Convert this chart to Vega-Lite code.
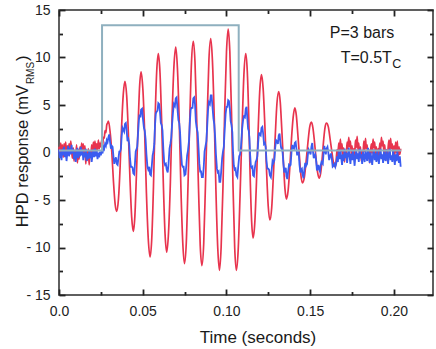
{
"$schema":"https://vega.github.io/schema/vega-lite/v6.json",
"width":374,"height":285,
"autosize":{"type":"none"},
"padding":{"left":59,"top":10,"right":3,"bottom":54},
"config":{"view":{"stroke":"#2b2b2b","strokeWidth":1.5},"font":"Liberation Sans","text":{"font":"Liberation Sans","color":"#1a1a1a"},"axis":{"ticks":true,"tickOpacity":1,"zindex":2}},
"datasets":{
"red":[
{"t":0.0000,"v":0.6},{"t":0.0005,"v":-0.2},{"t":0.0010,"v":1.0},{"t":0.0015,"v":0.1},{"t":0.0020,"v":0.8},{"t":0.0025,"v":-0.5},{"t":0.0030,"v":0.9},{"t":0.0035,"v":0.2},{"t":0.0040,"v":1.1},{"t":0.0045,"v":-0.3},
{"t":0.0050,"v":0.7},{"t":0.0055,"v":-0.1},{"t":0.0060,"v":0.9},{"t":0.0065,"v":0.0},{"t":0.0070,"v":1.2},{"t":0.0075,"v":0.3},{"t":0.0080,"v":-0.6},{"t":0.0085,"v":0.5},{"t":0.0090,"v":-0.9},{"t":0.0095,"v":0.2},
{"t":0.0100,"v":-0.4},{"t":0.0105,"v":0.8},{"t":0.0110,"v":-1.1},{"t":0.0115,"v":0.3},{"t":0.0120,"v":-0.7},{"t":0.0125,"v":0.6},{"t":0.0130,"v":-0.2},{"t":0.0135,"v":1.0},{"t":0.0140,"v":0.1},{"t":0.0145,"v":0.9},
{"t":0.0150,"v":-0.3},{"t":0.0155,"v":0.7},{"t":0.0160,"v":-1.2},{"t":0.0165,"v":0.2},{"t":0.0170,"v":-0.8},{"t":0.0175,"v":0.4},{"t":0.0180,"v":-1.3},{"t":0.0185,"v":0.1},{"t":0.0190,"v":-0.5},{"t":0.0195,"v":0.8},
{"t":0.0200,"v":-0.2},{"t":0.0205,"v":1.1},{"t":0.0210,"v":0.3},{"t":0.0215,"v":1.2},{"t":0.0220,"v":0.0},{"t":0.0225,"v":0.9},{"t":0.0230,"v":0.2},{"t":0.0235,"v":1.3},{"t":0.0240,"v":0.4},{"t":0.0245,"v":1.0},
{"t":0.0250,"v":0.6},{"t":0.0255,"v":1.3},{"t":0.0260,"v":0.7},{"t":0.0265,"v":1.6},{"t":0.0270,"v":1.5},{"t":0.0275,"v":2.3},{"t":0.0280,"v":2.1},{"t":0.0285,"v":2.9},{"t":0.0290,"v":3.1},
{"t":0.0295,"v":3.3},{"t":0.0305,"v":2.2},{"t":0.0315,"v":0.1},{"t":0.0325,"v":-3.0},{"t":0.0335,"v":-5.4},{"t":0.0345,"v":-6.2},{"t":0.0355,"v":-4.9},{"t":0.0365,"v":-1.5},{"t":0.0374,"v":2.8},{"t":0.0384,"v":6.2},
{"t":0.0394,"v":7.5},{"t":0.0404,"v":6.0},{"t":0.0414,"v":2.1},{"t":0.0424,"v":-2.9},{"t":0.0434,"v":-6.8},{"t":0.0444,"v":-8.3},{"t":0.0453,"v":-6.7},{"t":0.0462,"v":-2.5},{"t":0.0472,"v":2.7},{"t":0.0481,"v":6.9},
{"t":0.0490,"v":8.5},{"t":0.0501,"v":6.6},{"t":0.0512,"v":1.8},{"t":0.0522,"v":-4.3},{"t":0.0533,"v":-9.1},{"t":0.0544,"v":-11.0},{"t":0.0554,"v":-9.0},{"t":0.0564,"v":-3.6},{"t":0.0573,"v":3.0},{"t":0.0583,"v":8.4},
{"t":0.0593,"v":10.4},{"t":0.0603,"v":8.4},{"t":0.0613,"v":3.2},{"t":0.0623,"v":-3.3},{"t":0.0633,"v":-8.5},{"t":0.0643,"v":-10.5},{"t":0.0654,"v":-8.4},{"t":0.0665,"v":-3.1},{"t":0.0675,"v":3.7},{"t":0.0686,"v":9.0},
{"t":0.0697,"v":11.1},{"t":0.0707,"v":8.9},{"t":0.0718,"v":3.2},{"t":0.0728,"v":-3.8},{"t":0.0739,"v":-9.5},{"t":0.0749,"v":-11.7},{"t":0.0760,"v":-9.5},{"t":0.0770,"v":-3.6},{"t":0.0781,"v":3.6},{"t":0.0791,"v":9.5},
{"t":0.0802,"v":11.7},{"t":0.0812,"v":9.5},{"t":0.0822,"v":3.6},{"t":0.0833,"v":-3.8},{"t":0.0843,"v":-9.7},{"t":0.0853,"v":-11.9},{"t":0.0864,"v":-9.6},{"t":0.0874,"v":-3.7},{"t":0.0885,"v":3.8},{"t":0.0895,"v":9.7},
{"t":0.0906,"v":12.0},{"t":0.0916,"v":9.7},{"t":0.0927,"v":3.6},{"t":0.0937,"v":-4.0},{"t":0.0948,"v":-10.1},{"t":0.0958,"v":-12.4},{"t":0.0968,"v":-10.0},{"t":0.0979,"v":-3.6},{"t":0.0989,"v":4.2},{"t":0.1000,"v":10.6},
{"t":0.1010,"v":13.0},{"t":0.1020,"v":10.6},{"t":0.1030,"v":4.2},{"t":0.1039,"v":-3.6},{"t":0.1049,"v":-10.0},{"t":0.1059,"v":-12.4},{"t":0.1070,"v":-10.2},{"t":0.1081,"v":-4.5},{"t":0.1093,"v":2.5},{"t":0.1104,"v":8.2},
{"t":0.1115,"v":10.4},{"t":0.1124,"v":8.6},{"t":0.1133,"v":3.7},{"t":0.1141,"v":-2.3},{"t":0.1150,"v":-7.2},{"t":0.1159,"v":-9.0},{"t":0.1169,"v":-7.4},{"t":0.1179,"v":-3.1},{"t":0.1189,"v":2.3},{"t":0.1199,"v":6.6},
{"t":0.1209,"v":8.2},{"t":0.1219,"v":6.7},{"t":0.1229,"v":2.9},{"t":0.1239,"v":-1.8},{"t":0.1249,"v":-5.6},{"t":0.1259,"v":-7.1},{"t":0.1270,"v":-5.8},{"t":0.1280,"v":-2.4},{"t":0.1291,"v":1.7},{"t":0.1301,"v":5.1},
{"t":0.1312,"v":6.4},{"t":0.1321,"v":5.3},{"t":0.1330,"v":2.5},{"t":0.1340,"v":-1.0},{"t":0.1349,"v":-3.8},{"t":0.1358,"v":-4.9},{"t":0.1368,"v":-4.0},{"t":0.1378,"v":-1.6},{"t":0.1388,"v":1.4},{"t":0.1398,"v":3.7},
{"t":0.1408,"v":4.7},{"t":0.1417,"v":3.9},{"t":0.1426,"v":1.9},{"t":0.1436,"v":-0.5},{"t":0.1445,"v":-2.5},{"t":0.1454,"v":-3.2},{"t":0.1465,"v":-2.6},{"t":0.1475,"v":-1.0},{"t":0.1486,"v":1.0},{"t":0.1496,"v":2.6},
{"t":0.1507,"v":3.2},{"t":0.1516,"v":2.6},{"t":0.1525,"v":1.2},{"t":0.1535,"v":-0.7},{"t":0.1544,"v":-2.1},{"t":0.1553,"v":-2.7},{"t":0.1562,"v":-2.2},{"t":0.1571,"v":-0.7},{"t":0.1579,"v":1.1},{"t":0.1588,"v":2.6},
{"t":0.1597,"v":3.1},{"t":0.1608,"v":2.7},{"t":0.1618,"v":1.5},{"t":0.1629,"v":0.1},{"t":0.1639,"v":-1.1},{"t":0.1650,"v":-1.5},
{"t":0.1655,"v":-0.8},{"t":0.1660,"v":0.3},{"t":0.1665,"v":-0.5},{"t":0.1670,"v":1.0},{"t":0.1675,"v":0.2},{"t":0.1680,"v":1.4},{"t":0.1685,"v":0.1},{"t":0.1690,"v":0.9},{"t":0.1695,"v":-0.6},{"t":0.1700,"v":0.5},
{"t":0.1705,"v":-1.0},{"t":0.1710,"v":0.2},{"t":0.1715,"v":-0.4},{"t":0.1720,"v":1.1},{"t":0.1725,"v":0.4},{"t":0.1730,"v":1.6},{"t":0.1735,"v":0.6},{"t":0.1740,"v":1.2},{"t":0.1745,"v":-0.2},{"t":0.1750,"v":0.7},
{"t":0.1755,"v":-0.7},{"t":0.1760,"v":0.4},{"t":0.1765,"v":-0.3},{"t":0.1770,"v":1.3},{"t":0.1775,"v":0.5},{"t":0.1780,"v":1.7},{"t":0.1785,"v":0.3},{"t":0.1790,"v":1.0},{"t":0.1795,"v":-0.5},{"t":0.1800,"v":0.6},
{"t":0.1805,"v":-0.9},{"t":0.1810,"v":0.2},{"t":0.1815,"v":-0.2},{"t":0.1820,"v":1.2},{"t":0.1825,"v":0.1},{"t":0.1830,"v":1.5},{"t":0.1835,"v":0.4},{"t":0.1840,"v":0.8},{"t":0.1845,"v":-0.6},{"t":0.1850,"v":0.3},
{"t":0.1855,"v":-1.1},{"t":0.1860,"v":0.1},{"t":0.1865,"v":0.9},{"t":0.1870,"v":-0.1},{"t":0.1875,"v":1.4},{"t":0.1880,"v":0.5},{"t":0.1885,"v":1.1},{"t":0.1890,"v":-0.3},{"t":0.1895,"v":0.6},{"t":0.1900,"v":-0.8},
{"t":0.1905,"v":0.4},{"t":0.1910,"v":-0.4},{"t":0.1915,"v":1.0},{"t":0.1920,"v":0.2},{"t":0.1925,"v":1.6},{"t":0.1930,"v":0.7},{"t":0.1935,"v":1.2},{"t":0.1940,"v":-0.1},{"t":0.1945,"v":0.8},{"t":0.1950,"v":-0.6},
{"t":0.1955,"v":0.3},{"t":0.1960,"v":-0.9},{"t":0.1965,"v":0.5},{"t":0.1970,"v":1.3},{"t":0.1975,"v":0.2},{"t":0.1980,"v":1.5},{"t":0.1985,"v":0.4},{"t":0.1990,"v":0.9},{"t":0.1995,"v":-0.4},{"t":0.2000,"v":0.7},
{"t":0.2005,"v":-0.3},{"t":0.2010,"v":1.1},{"t":0.2015,"v":0.0},{"t":0.2020,"v":1.2},{"t":0.2025,"v":-0.5},{"t":0.2030,"v":0.6},{"t":0.2035,"v":-0.2},{"t":0.2040,"v":0.4}
],
"blue":[
{"t":0.0000,"v":0.3},{"t":0.0005,"v":-0.6},{"t":0.0010,"v":0.1},{"t":0.0015,"v":-0.8},{"t":0.0020,"v":0.4},{"t":0.0025,"v":-0.3},{"t":0.0030,"v":0.6},{"t":0.0035,"v":-0.5},{"t":0.0040,"v":0.2},{"t":0.0045,"v":-0.9},
{"t":0.0050,"v":0.0},{"t":0.0055,"v":0.7},{"t":0.0060,"v":-0.4},{"t":0.0065,"v":0.5},{"t":0.0070,"v":-0.2},{"t":0.0075,"v":0.8},{"t":0.0080,"v":-0.1},{"t":0.0085,"v":0.4},{"t":0.0090,"v":-0.7},{"t":0.0095,"v":0.1},
{"t":0.0100,"v":-1.0},{"t":0.0105,"v":-0.2},{"t":0.0110,"v":0.5},{"t":0.0115,"v":-0.6},{"t":0.0120,"v":0.2},{"t":0.0125,"v":-0.4},{"t":0.0130,"v":0.6},{"t":0.0135,"v":-0.3},{"t":0.0140,"v":0.3},{"t":0.0145,"v":-0.8},
{"t":0.0150,"v":0.0},{"t":0.0155,"v":-0.5},{"t":0.0160,"v":0.4},{"t":0.0165,"v":-0.9},{"t":0.0170,"v":-0.1},{"t":0.0175,"v":-0.7},{"t":0.0180,"v":0.2},{"t":0.0185,"v":-0.6},{"t":0.0190,"v":0.1},{"t":0.0195,"v":-1.0},
{"t":0.0200,"v":-0.3},{"t":0.0205,"v":0.3},{"t":0.0210,"v":-0.5},{"t":0.0215,"v":0.4},{"t":0.0220,"v":-0.4},{"t":0.0225,"v":0.2},{"t":0.0230,"v":-0.7},{"t":0.0235,"v":0.0},{"t":0.0240,"v":-0.5},{"t":0.0245,"v":0.1},
{"t":0.0250,"v":-0.3},{"t":0.0255,"v":0.2},{"t":0.0260,"v":-0.1},{"t":0.0265,"v":0.6},{"t":0.0270,"v":0.4},{"t":0.0275,"v":0.9},{"t":0.0280,"v":0.7},{"t":0.0285,"v":1.3},{"t":0.0290,"v":1.1},
{"t":0.0295,"v":1.6},{"t":0.0305,"v":1.1},{"t":0.0315,"v":0.7},{"t":0.0325,"v":-0.4},{"t":0.0335,"v":-0.8},{"t":0.0345,"v":-1.2},{"t":0.0355,"v":-0.6},{"t":0.0365,"v":0.1},{"t":0.0374,"v":1.7},{"t":0.0384,"v":2.4},
{"t":0.0394,"v":3.0},{"t":0.0404,"v":2.3},{"t":0.0414,"v":1.4},{"t":0.0424,"v":-0.6},{"t":0.0434,"v":-1.5},{"t":0.0444,"v":-2.2},{"t":0.0453,"v":-1.3},{"t":0.0462,"v":0.3},{"t":0.0472,"v":2.0},{"t":0.0481,"v":4.0},
{"t":0.0490,"v":4.5},{"t":0.0501,"v":3.6},{"t":0.0512,"v":2.3},{"t":0.0522,"v":-0.2},{"t":0.0533,"v":-1.8},{"t":0.0544,"v":-2.3},{"t":0.0554,"v":-1.4},{"t":0.0564,"v":0.1},{"t":0.0573,"v":2.8},{"t":0.0583,"v":4.3},
{"t":0.0593,"v":5.2},{"t":0.0603,"v":4.3},{"t":0.0613,"v":2.9},{"t":0.0623,"v":0.4},{"t":0.0633,"v":-1.3},{"t":0.0643,"v":-1.8},{"t":0.0654,"v":-1.2},{"t":0.0665,"v":0.9},{"t":0.0675,"v":2.9},{"t":0.0686,"v":5.1},
{"t":0.0697,"v":5.7},{"t":0.0707,"v":4.7},{"t":0.0718,"v":3.1},{"t":0.0728,"v":0.2},{"t":0.0739,"v":-1.5},{"t":0.0749,"v":-2.4},{"t":0.0760,"v":-1.4},{"t":0.0770,"v":0.2},{"t":0.0781,"v":3.1},{"t":0.0791,"v":4.7},
{"t":0.0802,"v":5.7},{"t":0.0812,"v":5.1},{"t":0.0822,"v":2.6},{"t":0.0833,"v":0.5},{"t":0.0843,"v":-2.0},{"t":0.0853,"v":-2.6},{"t":0.0864,"v":-1.6},{"t":0.0874,"v":0.6},{"t":0.0885,"v":2.8},{"t":0.0895,"v":5.3},
{"t":0.0906,"v":6.0},{"t":0.0916,"v":4.9},{"t":0.0927,"v":3.0},{"t":0.0937,"v":-0.2},{"t":0.0948,"v":-2.1},{"t":0.0958,"v":-3.1},{"t":0.0968,"v":-2.1},{"t":0.0979,"v":0.1},{"t":0.0989,"v":2.3},{"t":0.1000,"v":4.8},
{"t":0.1010,"v":5.5},{"t":0.1020,"v":4.6},{"t":0.1030,"v":2.9},{"t":0.1039,"v":0.1},{"t":0.1049,"v":-1.8},{"t":0.1059,"v":-2.4},{"t":0.1070,"v":-1.5},{"t":0.1081,"v":-0.2},{"t":0.1093,"v":2.4},{"t":0.1104,"v":3.8},
{"t":0.1115,"v":4.6},{"t":0.1124,"v":3.7},{"t":0.1133,"v":2.3},{"t":0.1141,"v":-0.2},{"t":0.1150,"v":-1.6},{"t":0.1159,"v":-2.4},{"t":0.1169,"v":-1.7},{"t":0.1179,"v":-0.8},{"t":0.1189,"v":1.0},{"t":0.1199,"v":1.9},
{"t":0.1209,"v":2.6},{"t":0.1219,"v":2.0},{"t":0.1229,"v":1.0},{"t":0.1239,"v":-0.9},{"t":0.1249,"v":-1.7},{"t":0.1259,"v":-2.4},{"t":0.1270,"v":-1.8},{"t":0.1280,"v":-1.1},{"t":0.1291,"v":0.5},{"t":0.1301,"v":1.2},
{"t":0.1312,"v":1.8},{"t":0.1321,"v":1.2},{"t":0.1330,"v":0.5},{"t":0.1340,"v":-1.2},{"t":0.1349,"v":-1.9},{"t":0.1358,"v":-2.5},{"t":0.1368,"v":-2.0},{"t":0.1378,"v":-1.4},{"t":0.1388,"v":0.0},{"t":0.1398,"v":0.5},
{"t":0.1408,"v":1.0},{"t":0.1417,"v":0.5},{"t":0.1426,"v":0.0},{"t":0.1436,"v":-1.3},{"t":0.1445,"v":-1.8},{"t":0.1454,"v":-2.3},{"t":0.1465,"v":-1.8},{"t":0.1475,"v":-1.4},{"t":0.1486,"v":-0.2},{"t":0.1496,"v":0.1},
{"t":0.1507,"v":0.6},{"t":0.1516,"v":0.2},{"t":0.1525,"v":-0.4},{"t":0.1535,"v":-0.8},{"t":0.1544,"v":-1.7},{"t":0.1553,"v":-1.8},{"t":0.1562,"v":-1.4},{"t":0.1571,"v":-1.1},{"t":0.1579,"v":-0.2},{"t":0.1588,"v":0.3},
{"t":0.1597,"v":0.4},{"t":0.1608,"v":0.0},{"t":0.1618,"v":-0.4},{"t":0.1629,"v":-0.7},{"t":0.1639,"v":-1.4},{"t":0.1650,"v":-1.5},
{"t":0.0300,"v":1.9},{"t":0.0310,"v":0.4},{"t":0.0320,"v":0.6},{"t":0.0330,"v":-1.2},{"t":0.0340,"v":-0.5},{"t":0.0350,"v":-1.3},{"t":0.0360,"v":0.1},{"t":0.0370,"v":0.4},{"t":0.0379,"v":2.6},{"t":0.0389,"v":2.2},
{"t":0.0399,"v":3.1},{"t":0.0409,"v":1.2},{"t":0.0419,"v":0.9},{"t":0.0429,"v":-1.5},{"t":0.0439,"v":-1.6},{"t":0.0449,"v":-2.3},{"t":0.0458,"v":0.1},{"t":0.0467,"v":0.6},{"t":0.0477,"v":3.4},{"t":0.0486,"v":3.7},
{"t":0.0496,"v":4.6},{"t":0.0507,"v":2.6},{"t":0.0517,"v":1.4},{"t":0.0528,"v":-1.5},{"t":0.0539,"v":-1.5},{"t":0.0549,"v":-2.4},{"t":0.0559,"v":-0.3},{"t":0.0569,"v":0.9},{"t":0.0578,"v":4.1},{"t":0.0588,"v":4.4},
{"t":0.0598,"v":5.1},{"t":0.0608,"v":3.1},{"t":0.0618,"v":2.3},{"t":0.0628,"v":-1.0},{"t":0.0638,"v":-1.2},{"t":0.0649,"v":-2.1},{"t":0.0660,"v":0.4},{"t":0.0670,"v":1.5},{"t":0.0681,"v":4.3},{"t":0.0692,"v":4.9},
{"t":0.0702,"v":5.8},{"t":0.0713,"v":3.4},{"t":0.0723,"v":2.1},{"t":0.0734,"v":-1.3},{"t":0.0744,"v":-1.5},{"t":0.0755,"v":-2.3},{"t":0.0765,"v":-0.3},{"t":0.0776,"v":1.2},{"t":0.0786,"v":4.5},{"t":0.0797,"v":4.7},
{"t":0.0807,"v":5.8},{"t":0.0817,"v":3.3},{"t":0.0828,"v":2.1},{"t":0.0838,"v":-1.2},{"t":0.0848,"v":-2.0},{"t":0.0859,"v":-2.6},{"t":0.0869,"v":0.1},{"t":0.0880,"v":1.2},{"t":0.0890,"v":4.5},{"t":0.0901,"v":5.1},
{"t":0.0911,"v":6.0},{"t":0.0922,"v":3.6},{"t":0.0932,"v":1.7},{"t":0.0943,"v":-1.7},{"t":0.0953,"v":-2.0},{"t":0.0963,"v":-3.1},{"t":0.0974,"v":-0.6},{"t":0.0984,"v":0.6},{"t":0.0995,"v":4.1},{"t":0.1005,"v":4.8},
{"t":0.1015,"v":5.4},{"t":0.1025,"v":3.3},{"t":0.1035,"v":2.1},{"t":0.1044,"v":-1.4},{"t":0.1054,"v":-1.7},{"t":0.1065,"v":-2.6},{"t":0.1076,"v":-0.4},{"t":0.1087,"v":0.7},{"t":0.1099,"v":3.4},{"t":0.1110,"v":3.7},
{"t":0.1120,"v":4.8},{"t":0.1129,"v":2.5},{"t":0.1137,"v":1.5},{"t":0.1146,"v":-1.5},{"t":0.1155,"v":-1.5},{"t":0.1164,"v":-2.5},{"t":0.1174,"v":-1.0},{"t":0.1184,"v":-0.4},{"t":0.1194,"v":2.1},{"t":0.1204,"v":1.8},
{"t":0.1214,"v":2.7},{"t":0.1224,"v":0.9},{"t":0.1234,"v":0.6},{"t":0.1244,"v":-1.7},{"t":0.1254,"v":-1.8},{"t":0.1265,"v":-2.6},{"t":0.1275,"v":-0.9},{"t":0.1286,"v":-0.8},{"t":0.1296,"v":1.3},{"t":0.1307,"v":0.9},
{"t":0.1317,"v":2.0},{"t":0.1326,"v":0.5},{"t":0.1335,"v":0.0},{"t":0.1345,"v":-2.1},{"t":0.1354,"v":-1.6},{"t":0.1363,"v":-2.8},{"t":0.1373,"v":-1.3},{"t":0.1383,"v":-1.3},{"t":0.1393,"v":0.8},{"t":0.1403,"v":0.4},
{"t":0.1413,"v":1.1},{"t":0.1422,"v":-0.3},{"t":0.1431,"v":0.0},{"t":0.1441,"v":-2.1},{"t":0.1450,"v":-1.7},{"t":0.1460,"v":-2.7},{"t":0.1470,"v":-1.1},{"t":0.1481,"v":-1.2},{"t":0.1491,"v":0.3},{"t":0.1502,"v":-0.2},
{"t":0.1512,"v":1.0},{"t":0.1521,"v":-0.6},{"t":0.1530,"v":-0.2},{"t":0.1540,"v":-1.9},{"t":0.1549,"v":-1.3},{"t":0.1558,"v":-2.0},{"t":0.1567,"v":-1.0},{"t":0.1575,"v":-1.2},{"t":0.1584,"v":0.7},{"t":0.1593,"v":-0.2},
{"t":0.1603,"v":0.6},{"t":0.1613,"v":-0.8},{"t":0.1624,"v":-0.1},{"t":0.1634,"v":-1.5},{"t":0.1645,"v":-1.2},
{"t":0.1655,"v":-1.2},{"t":0.1660,"v":-0.4},{"t":0.1665,"v":-1.0},{"t":0.1670,"v":0.1},{"t":0.1675,"v":-0.7},{"t":0.1680,"v":0.3},{"t":0.1685,"v":-0.5},{"t":0.1690,"v":-1.3},{"t":0.1695,"v":-0.2},{"t":0.1700,"v":-0.9},
{"t":0.1705,"v":0.4},{"t":0.1710,"v":-0.6},{"t":0.1715,"v":0.0},{"t":0.1720,"v":-1.1},{"t":0.1725,"v":-0.3},{"t":0.1730,"v":0.5},{"t":0.1735,"v":-0.4},{"t":0.1740,"v":-1.2},{"t":0.1745,"v":-0.1},{"t":0.1750,"v":-0.8},
{"t":0.1755,"v":0.2},{"t":0.1760,"v":-0.5},{"t":0.1765,"v":-1.4},{"t":0.1770,"v":-0.3},{"t":0.1775,"v":0.3},{"t":0.1780,"v":-0.7},{"t":0.1785,"v":-0.1},{"t":0.1790,"v":-1.0},{"t":0.1795,"v":0.4},{"t":0.1800,"v":-0.6},
{"t":0.1805,"v":-0.2},{"t":0.1810,"v":-1.2},{"t":0.1815,"v":0.1},{"t":0.1820,"v":-0.5},{"t":0.1825,"v":-1.0},{"t":0.1830,"v":0.2},{"t":0.1835,"v":-0.4},{"t":0.1840,"v":-0.9},{"t":0.1845,"v":0.5},{"t":0.1850,"v":-0.3},
{"t":0.1855,"v":-1.1},{"t":0.1860,"v":0.0},{"t":0.1865,"v":-0.6},{"t":0.1870,"v":-1.3},{"t":0.1875,"v":-0.2},{"t":0.1880,"v":0.3},{"t":0.1885,"v":-0.8},{"t":0.1890,"v":-0.1},{"t":0.1895,"v":-1.0},{"t":0.1900,"v":0.2},
{"t":0.1905,"v":-0.5},{"t":0.1910,"v":-1.2},{"t":0.1915,"v":-0.3},{"t":0.1920,"v":0.4},{"t":0.1925,"v":-0.7},{"t":0.1930,"v":-0.2},{"t":0.1935,"v":-1.1},{"t":0.1940,"v":0.1},{"t":0.1945,"v":-0.6},{"t":0.1950,"v":-0.9},
{"t":0.1955,"v":0.3},{"t":0.1960,"v":-0.4},{"t":0.1965,"v":-1.2},{"t":0.1970,"v":-0.1},{"t":0.1975,"v":0.4},{"t":0.1980,"v":-0.8},{"t":0.1985,"v":-0.3},{"t":0.1990,"v":-1.0},{"t":0.1995,"v":0.2},{"t":0.2000,"v":-0.5},
{"t":0.2005,"v":-1.3},{"t":0.2010,"v":-0.2},{"t":0.2015,"v":-0.9},{"t":0.2020,"v":0.1},{"t":0.2025,"v":-0.6},{"t":0.2030,"v":-1.1},{"t":0.2035,"v":-0.4},{"t":0.2040,"v":-1.5}
],
"gate":[
{"o":1,"t":0.0,"v":0.2},{"o":2,"t":0.0257,"v":0.2},{"o":3,"t":0.0257,"v":13.4},{"o":4,"t":0.1073,"v":13.4},{"o":5,"t":0.1073,"v":0.2},{"o":6,"t":0.2043,"v":0.2}
]
},
"layer":[
{"data":{"name":"red"},
 "mark":{"type":"line","color":"#e8344e","strokeWidth":1.7,"interpolate":"monotone"},
 "encoding":{
  "x":{"field":"t","type":"quantitative","scale":{"domain":[0,0.2233],"nice":false,"zero":false},
   "axis":{"orient":"bottom","values":[0,0.05,0.1,0.15,0.2],
    "labelExpr":"datum.value==0 ? '0.0' : format(datum.value,'.2f')",
    "tickSize":-6,"labelPadding":15,"labelOverlap":false,"labelFlush":false,"labelBound":false,"domain":false,"grid":false,
    "tickColor":"#222222","tickWidth":1.8,"labelFontSize":14,"labelColor":"#222222","labelFont":"Liberation Sans",
    "title":"Time (seconds)","titleFontSize":17,"titleFontWeight":"normal","titleFont":"Liberation Sans","titleColor":"#1a1a1a",
    "titleX":198.5,"titleY":47,"titleBaseline":"alphabetic","titleAlign":"center"}},
  "y":{"field":"v","type":"quantitative","scale":{"domain":[-15,15],"nice":false,"zero":false},
   "axis":{"orient":"left","values":[-15,-10,-5,0,5,10,15],
    "labelExpr":"datum.value<0 ? '- '+format(-datum.value,'d') : format(datum.value,'d')",
    "tickSize":-6,"labelPadding":15,"labelOverlap":false,"labelFlush":false,"labelBound":false,"domain":false,"grid":false,
    "tickColor":"#222222","tickWidth":1.8,"labelFontSize":14,"labelColor":"#222222","labelFont":"Liberation Sans","title":null}}
 }},
{"data":{"name":"blue"},
 "mark":{"type":"line","color":"#3a5cf0","strokeWidth":1.8},
 "encoding":{
  "x":{"field":"t","type":"quantitative",
   "axis":{"orient":"top","values":[0,0.05,0.1,0.15,0.2],"labels":false,"tickSize":-6,
    "domain":false,"grid":false,"tickColor":"#222222","tickWidth":1.8,"title":null}},
  "y":{"field":"v","type":"quantitative",
   "axis":{"orient":"right","values":[-15,-10,-5,0,5,10,15],"labels":false,"tickSize":-6,
    "domain":false,"grid":false,"tickColor":"#222222","tickWidth":1.8,"title":null}}
 }},
{"data":{"name":"gate"},
 "mark":{"type":"line","color":"#8fb0bf","strokeWidth":2},
 "encoding":{
  "x":{"field":"t","type":"quantitative",
   "axis":{"orient":"bottom","values":[0.025,0.075,0.125,0.175],"labels":false,"tickSize":-3.5,
    "domain":false,"grid":false,"tickColor":"#222222","tickWidth":1.8,"title":null}},
  "y":{"field":"v","type":"quantitative",
   "axis":{"orient":"left","values":[-12.5,-7.5,-2.5,2.5,7.5,12.5],"labels":false,"tickSize":-3.5,
    "domain":false,"grid":false,"tickColor":"#222222","tickWidth":1.8,"title":null}},
  "order":{"field":"o","type":"quantitative"}
 }},
{"data":{"values":[{"t":0.1617,"v":12.02}]},
 "mark":{"type":"text","text":"P=3 bars","fontSize":16,"align":"left","baseline":"alphabetic"},
 "encoding":{
  "x":{"field":"t","type":"quantitative",
   "axis":{"orient":"top","values":[0.025,0.075,0.125,0.175],"labels":false,"tickSize":-3.5,
    "domain":false,"grid":false,"tickColor":"#222222","tickWidth":1.8,"title":null}},
  "y":{"field":"v","type":"quantitative",
   "axis":{"orient":"right","values":[-12.5,-7.5,-2.5,2.5,7.5,12.5],"labels":false,"tickSize":-3.5,
    "domain":false,"grid":false,"tickColor":"#222222","tickWidth":1.8,"title":null}}}},
{"data":{"values":[{"t":0.19875,"v":9.45}]},
 "mark":{"type":"text","text":"T=0.5T","fontSize":16,"align":"right","baseline":"alphabetic"},
 "encoding":{"x":{"field":"t","type":"quantitative","axis":null},"y":{"field":"v","type":"quantitative","axis":null}}},
{"data":{"values":[{"t":0.1990,"v":8.9}]},
 "mark":{"type":"text","text":"C","fontSize":12.5,"align":"left","baseline":"alphabetic"},
 "encoding":{"x":{"field":"t","type":"quantitative","axis":null},"y":{"field":"v","type":"quantitative","axis":null}}},
{"data":{"values":[{"t":-0.0188,"v":7.1}]},
 "mark":{"type":"text","text":"HPD response (mV","fontSize":16.5,"angle":270,"align":"right","baseline":"alphabetic"},
 "encoding":{"x":{"field":"t","type":"quantitative","axis":null},"y":{"field":"v","type":"quantitative","axis":null}}},
{"data":{"values":[{"t":-0.0150,"v":7.2}]},
 "mark":{"type":"text","text":"RMS","fontSize":10,"angle":270,"align":"left","baseline":"alphabetic"},
 "encoding":{"x":{"field":"t","type":"quantitative","axis":null},"y":{"field":"v","type":"quantitative","axis":null}}},
{"data":{"values":[{"t":-0.0188,"v":10.2}]},
 "mark":{"type":"text","text":")","fontSize":16.5,"angle":270,"align":"right","baseline":"alphabetic"},
 "encoding":{"x":{"field":"t","type":"quantitative","axis":null},"y":{"field":"v","type":"quantitative","axis":null}}}
],
"resolve":{"axis":{"x":"independent","y":"independent"}}
}
